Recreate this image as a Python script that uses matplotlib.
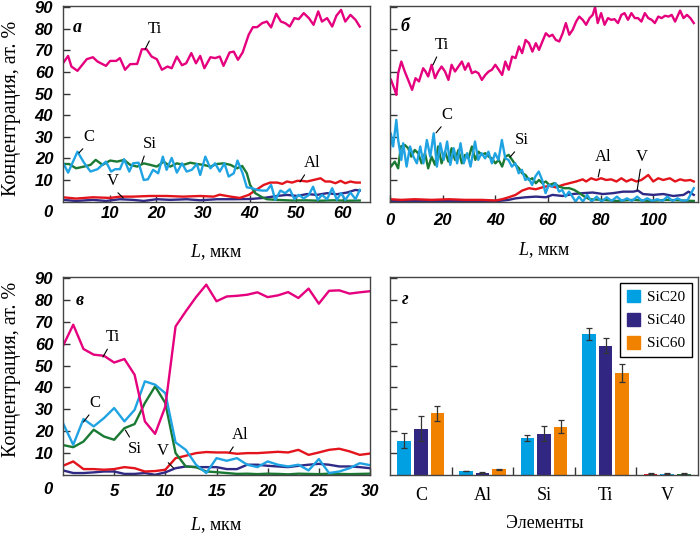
import matplotlib.pyplot as plt
from matplotlib.font_manager import FontProperties
import numpy as np

plt.rcParams['font.family'] = ['Liberation Serif', 'DejaVu Serif']
plt.rcParams['mathtext.fontset'] = 'custom'
plt.rcParams['mathtext.rm'] = 'Liberation Serif'
plt.rcParams['mathtext.it'] = 'Liberation Serif:italic'

# --- данные: панель а (x, концентрация) ---
a_ti = [(0, 64), (1.1, 67.4), (1.8, 62.5), (3.1, 60.5), (5.1, 65.9), (6.4, 66.8), (7.4, 64.8),
        (9.2, 62.8), (10.1, 65.1), (11.4, 65.1), (12.2, 66.4), (13.3, 61), (14.4, 63.6),
        (15.9, 63.7), (16.9, 70.5), (17.9, 70.5), (19.0, 67.1), (20.1, 65.9), (21.2, 61),
        (22.4, 62.5), (23.3, 61.7), (24.4, 67.1), (25.5, 63.1), (26.4, 64), (27.5, 68.7),
        (28.5, 64), (29.4, 67.4), (30.3, 61.7), (31.6, 66.8), (32.6, 66.4), (33.6, 67.1),
        (34.4, 62.8), (35.7, 69), (36.6, 69.4), (37.5, 65.6), (38.5, 69), (39.8, 77.2),
        (40.7, 80.7), (41.6, 80.7), (42.7, 82.6), (43.7, 83.3), (44.6, 80.6), (45.7, 86.9),
        (46.7, 83.3), (47.6, 82.6), (48.6, 81), (49.6, 84.9), (50.5, 84.4), (51.6, 87.2),
        (52.7, 84.9), (53.7, 81.8), (54.7, 88), (55.5, 83.3), (56.6, 84.9), (57.7, 81),
        (58.6, 86), (59.6, 88.7), (60.5, 83.3), (61.6, 86.4), (62.7, 84.1), (63.6, 81)]
a_c = [(0, 18), (1.1, 13.4), (3.1, 23.1), (4.5, 18), (5.9, 13.9), (7.4, 15), (9.2, 18.5),
       (10.3, 13.9), (11.2, 15), (12.2, 15), (13.1, 19.6), (14.2, 13.9), (15, 17.7), (16.2, 18),
       (17.3, 10), (18.2, 10.3), (19.3, 14.7), (20.4, 13.1), (21.4, 20.8), (22.2, 14.7),
       (23.3, 20.2), (24.4, 13.4), (25.5, 17.7), (26.5, 13.9), (27.6, 14.7), (28.7, 17.4),
       (29.4, 12.3), (30.5, 20.8), (31.6, 15.4), (32.6, 17.7), (33.6, 13.9), (34.6, 17.7),
       (35.5, 11.6), (36.6, 13.1), (37.4, 19), (38.5, 13.1), (39.4, 6.6), (40.5, 6.2),
       (41.6, 5.4), (42.7, 5.1), (43.7, 5.1), (44.6, 7.7), (45.5, 0.8), (46.6, 5.1), (47.6, 3.9),
       (48.6, 5.7), (49.6, 1.1), (50.5, 3.1), (51.6, 1.5), (52.7, 3.1), (53.6, 6.9), (54.6, 0.8),
       (55.5, 3.1), (56.6, 1.1), (57.7, 6.2), (58.7, 0.8), (59.6, 3.9), (60.5, 0.8), (61.6, 4.2),
       (62.7, 1.1), (63.6, 5.4)]
a_si = [(0, 17.4), (1.3, 17.4), (2.8, 15.4), (4.5, 16.2), (5.9, 17), (7.0, 19.3), (8.5, 17),
        (10.1, 19), (11.6, 18.5), (13.1, 19.3), (14.4, 17), (15.9, 16.2), (17.3, 17.7), (18.7, 17),
        (20.1, 16.2), (21.6, 18.5), (23.0, 16.2), (24.4, 17.7), (25.8, 17), (27.3, 18), (28.7, 17.4),
        (30.1, 17), (31.6, 16.2), (33.0, 17.4), (34.4, 17.7), (35.9, 17), (37.3, 15.4), (38.4, 16.5),
        (39.4, 13.1), (40.1, 7.7), (41.2, 3.9), (42.7, 2), (43.7, 1.1), (45.9, 0.8), (49, 0.5),
        (52, 0.6), (55, 0.4), (58, 0.6), (61, 0.4), (63.6, 0.5)]
a_al = [(0, 2), (2.8, 1.4), (6.4, 2), (10.1, 1.7), (12.2, 2.3), (15, 2.3), (18.7, 2.6), (22.2, 2.6),
        (25.8, 2.3), (29.4, 2.6), (32.3, 2.3), (33.6, 3.2), (35.9, 2.3), (37.9, 1.7), (39.8, 3.1),
        (41.6, 5.7), (43, 7.7), (44.4, 8.8), (45.9, 8.8), (47, 8.2), (48, 9.3), (49.1, 8.8),
        (50.2, 9.6), (51.2, 9.6), (52.3, 9.3), (53.7, 10), (55.2, 10.8), (56.2, 9.3), (57.3, 9.3),
        (58.4, 8.5), (59.5, 9.6), (60.5, 8.5), (61.6, 9.3), (62.7, 8.8), (63.6, 8.8)]
a_v = [(0, 0.8), (2.8, 0.3), (6.4, 0.8), (9.2, 0.3), (12.2, 1.1), (15, 0.8), (17.3, 0.3), (20.1, 1.1),
       (23, 0.8), (26.5, 1.1), (29.4, 0.6), (33, 1.1), (36.6, 1.1), (40.1, 1.2), (43, 1.7),
       (45.9, 2.6), (48, 3.1), (50.2, 2.6), (52.3, 3.5), (54.4, 3.1), (56.6, 3.9), (58.7, 3.4),
       (60.9, 4.2), (62.7, 5.4), (63.6, 5.1)]

# --- панель б ---
b_ti = [(0, 57), (0.4, 56.3), (1.8, 51.7), (2.4, 49.4), (3.1, 59.4), (4.3, 64.8), (5.6, 60.2),
        (6.9, 56.3), (8.4, 51.7), (9.7, 57.1), (11, 55.6), (12.6, 61.7), (13.5, 60.2), (14.5, 57.9),
        (15.8, 63.3), (17.1, 57.1), (18.3, 60.2), (19.6, 62.5), (20.9, 60.2), (22.2, 56.3),
        (23.4, 63.3), (24.7, 60.2), (26, 62.5), (27.3, 64.8), (28.5, 61), (29.8, 64), (31.1, 59.4),
        (32.4, 60.2), (33.6, 59.4), (34.9, 56.3), (36.2, 58.6), (37.5, 60.2), (38.7, 61),
        (40, 63.3), (41.3, 61), (42.6, 58.6), (43.8, 64.8), (45.1, 61), (46.4, 67.1), (47.7, 66.4),
        (49, 71.8), (50.2, 68.7), (51.5, 74.8), (52.8, 73.3), (54.1, 69.4), (55.4, 73.3),
        (56.6, 70.2), (57.9, 74.1), (59.2, 77.9), (60.5, 76.4), (61.7, 77.2), (63, 74.8),
        (64.3, 74.1), (65.6, 77.9), (66.8, 82.6), (68.1, 77.2), (69.4, 79.5), (70.7, 83.3),
        (71.9, 85.6), (73.2, 84.1), (74.5, 81.8), (75.8, 84.9), (77, 86.4), (77.9, 90),
        (78.9, 82.6), (80.2, 87.2), (81.5, 81.8), (82.8, 84.9), (84, 84.1), (85.3, 84.4),
        (86.6, 82.6), (87.9, 86.4), (89.1, 87.2), (90.4, 84.1), (91.7, 87.2), (93, 84.9),
        (94.2, 84.9), (95.5, 83.3), (96.8, 87.2), (98.1, 84.9), (99.4, 84.1), (100.6, 82.6),
        (101.9, 85.6), (103.2, 84.9), (104.5, 86), (105.8, 85.6), (107, 86.4), (108.3, 83.3),
        (110.2, 88.4), (111.5, 84.9), (112.8, 86.4), (114.1, 84.9), (115.4, 82.6)]
b_c = [(0, 24), (0.3, 31.6), (1.2, 25.5), (2.4, 37.8), (3.1, 28.5), (4.3, 19.3), (5, 27), (6.3, 16.2),
       (7.6, 25.5), (8.9, 20.8), (10.2, 17.7), (11.5, 25.5), (12.7, 17.7), (14, 28.5), (15.3, 20.8),
       (16.6, 31.6), (17.8, 16.2), (19.1, 27), (20.4, 19.3), (21.7, 27.8), (22.9, 17), (24.2, 24.7),
       (25.5, 17.7), (26.8, 27), (28, 17.7), (29.3, 22.4), (30.6, 16.2), (32.3, 27.8), (33.5, 19.3),
       (34.8, 22.4), (36.1, 20), (37.4, 23.1), (38.7, 17.7), (39.9, 22.4), (41.2, 19.3),
       (42.5, 28.5), (43.8, 20), (45, 19.3), (46.3, 16.2), (47.6, 17.7), (48.9, 13.1), (50.1, 14.7),
       (51.4, 10), (52.7, 10.8), (54, 7.7), (55.2, 11.6), (56.5, 13.9), (57.8, 10), (59.1, 3.9),
       (60.3, 7.7), (61.6, 6.9), (62.9, 8.5), (64.2, 4.6), (65.4, 5.4), (66.7, 2.3), (68, 4.6),
       (69.3, 2.3), (70.5, 0), (71.8, 2.3), (73.3, 0), (74.9, 3.1), (76.6, 0), (78.5, 2.3),
       (80.4, 0), (82.3, 2), (84.2, 0.3), (86.2, 2.3), (88.1, 0.3), (90, 1.5), (91.9, 0.3),
       (93.9, 2.3), (95.8, 0.3), (97.7, 1.5), (99.6, 0.3), (101.5, 1.1), (103.5, 0.3), (105.4, 2.3),
       (107.3, 0.3), (109.2, 1.5), (111.2, 0.3), (113.1, 0.8), (115.4, 6.2)]
b_si = [(0, 17.7), (0.4, 16.2), (1.8, 18.5), (3.1, 15.4), (4.1, 25.5), (5.6, 26.2), (6.9, 24.7),
        (8.1, 20.8), (9.4, 23.9), (10.7, 22.4), (12, 17.7), (13.3, 22.4), (14.5, 15.4), (15.8, 20.8),
        (17.1, 17), (18.3, 25.5), (19.6, 17.7), (20.9, 23.1), (22.2, 18.5), (23.4, 24.7),
        (24.7, 19.3), (26, 23.9), (27.3, 17.7), (28.5, 21.6), (29.8, 20), (31.1, 25.5), (32.4, 19.3),
        (33.6, 23.1), (34.9, 21.6), (36.2, 22.4), (37.5, 20.8), (38.7, 20), (40, 17.7), (41.3, 19.3),
        (42.6, 16.2), (43.8, 20.8), (45.1, 21.6), (46.4, 19.3), (47.7, 17), (49, 15.4), (50.2, 13.1),
        (51.5, 12.3), (52.8, 10), (54.1, 10.8), (55.4, 8.5), (56.6, 10), (57.9, 8.5), (59.2, 9.3),
        (60.5, 7.7), (62.4, 8.5), (64.3, 6.9), (66.2, 6.2), (68.1, 6.2), (70, 5.4), (72, 3.9),
        (73.9, 2.3), (75.8, 1.1), (80.9, 0.8), (86, 0.3), (92.4, 0.8), (98.7, 0.3), (105, 0.8),
        (115.4, 0.3)]
b_al = [(0, 1.1), (4.3, 0.8), (9.4, 1.1), (15.8, 0.8), (22.2, 1.1), (28.5, 0.8), (34.9, 0.8),
        (40, 0.5), (42.6, 1.1), (45.1, 2), (47.7, 3.1), (50.2, 5.1), (52.8, 6.2), (55.4, 5.7),
        (57.9, 6.6), (60.5, 7.3), (63, 6.6), (65.6, 7.7), (68.1, 8.5), (70.7, 9.3), (73.2, 10.3),
        (74.5, 9.3), (76.4, 10.8), (78.3, 10), (80.2, 10.8), (82.1, 10), (84, 10.3), (86, 9.3),
        (87.9, 10.8), (89.8, 9.3), (91.7, 10.3), (93.6, 9.3), (95.5, 10), (98.1, 12.3), (100, 9.3),
        (101.9, 10.8), (103.8, 10), (106.3, 10.8), (108.3, 9.3), (110.2, 10.3), (112.1, 9.7),
        (114.1, 10), (115.4, 9.3)]
b_v = [(0, 0.3), (22.2, 0.3), (41.3, 0.3), (45.1, 0.8), (47.7, 1.5), (51.5, 2), (55.4, 2.3),
       (59.2, 2), (61.7, 3.1), (65.6, 2.6), (69.4, 3.5), (73.2, 3.9), (77, 4.2), (80.9, 3.5),
       (84.7, 3.9), (88.5, 4.6), (92.4, 4.6), (94.2, 5.1), (96.1, 3.5), (100, 3.1), (103.8, 3.5),
       (107.6, 2.6), (111.5, 3.1), (113.4, 4.6), (115.4, 3.1)]

# --- панель в (шаг 1 мкм) ---
c_x = list(range(31))
c_ti = [59, 68.7, 57.6, 55, 54.5, 51.4, 53, 45.8, 24.5, 18.8, 31.3, 67.9, 74.8, 81.3, 87, 79.4,
        81.6, 81.9, 82.4, 83.5, 81.3, 82.1, 83.6, 80.9, 85.2, 78.3, 84.2, 84.4, 82.9, 83.5, 84]
c_c = [23.7, 13.8, 25.6, 22.2, 26, 30.6, 24.5, 29.8, 42.8, 41.3, 37.4, 14.9, 11.5, 4.7, 0.9, 7.7,
       6.5, 7.7, 4.7, 3.6, 6.2, 4.7, 3.9, 4.7, 2.1, 7.3, 0.9, 1.6, 3.1, 5.4, 4.5]
c_si = [13.7, 12.7, 15.3, 20.7, 17.6, 16.1, 21.4, 23.3, 32.9, 40.5, 32.9, 10, 3.9, 3.6, 1.6, 1.3,
        0.9, 0.5, 0.6, 0.4, 0.6, 0.5, 0.3, 0.6, 0.5, 0.4, 0.6, 0.5, 0.4, 0.5, 0.6]
c_al = [4.2, 6.2, 2.7, 2.7, 2.4, 2.7, 3.6, 3.1, 1.6, 1.8, 2.4, 7.7, 8.8, 10, 10.5, 10.3, 10.3, 9.7,
        10, 10, 10.3, 10.6, 10.3, 11.5, 9.2, 10.3, 11.5, 12, 10.8, 9.2, 9.8]
c_v = [2.1, 0.9, 0.9, 1.2, 1.6, 1.6, 0.5, 0.5, 0.9, 0.1, 1.2, 3.1, 3.9, 3.6, 3.6, 3.6, 2.7, 2.7,
       4.7, 4.7, 4.2, 3.9, 3.6, 4.2, 4.7, 5.1, 4.7, 3.9, 3.9, 3.6, 3.1]

# --- панель г ---
elements = ['C', 'Al', 'Si', 'Ti', 'V']
samples = ['SiC20', 'SiC40', 'SiC60']
sic20 = [15.7, 2.0, 17.1, 64.5, 0.6]
sic40 = [21.2, 1.1, 18.8, 59.0, 0.5]
sic60 = [28.2, 2.6, 22.1, 46.5, 0.6]
err20 = [3.3, 0.0, 1.4, 2.9, 0.3]
err40 = [5.6, 0.2, 3.4, 3.4, 0.2]
err60 = [3.4, 0.2, 3.0, 4.2, 0.2]

TI, C, SI, AL, V = '#e5007e', '#1fa3e2', '#1a7a33', '#e3141c', '#2f2a86'
BAR = ['#00a0e3', '#312783', '#f08200']

tick_fp = FontProperties(family='Liberation Sans', weight='bold', style='italic', size=12)

fig = plt.figure(figsize=(7.0, 5.34), dpi=100)
W, H = 700.0, 534.0


def make_ax(left, right, top, bottom):
    return fig.add_axes([left / W, 1 - bottom / H, (right - left) / W, (bottom - top) / H])


ax_a = make_ax(63, 370, 6, 201.6)
ax_b = make_ax(390, 698, 6, 201.6)
ax_c = make_ax(63, 370, 277, 475)
ax_d = make_ax(390, 698, 277, 475)


def style(ax, xlim, xticks, ylabels, xpad):
    ax.set_xlim(*xlim)
    ax.set_ylim(0, 90.5)
    ax.set_yticks(range(10, 100, 10))
    ax.tick_params(direction='in', length=5, width=1, color='#333333')
    ax.tick_params(axis='x', pad=xpad)
    ax.tick_params(axis='y', pad=7)
    for s in ax.spines.values():
        s.set_linewidth(1.0)
        s.set_color('#444444')
    if xticks is not None:
        ax.set_xticks(xticks)
        ax.set_xticklabels([str(t) for t in xticks], fontproperties=tick_fp)
    if ylabels:
        ax.set_yticklabels([str(t) for t in range(10, 100, 10)], fontproperties=tick_fp)
        ax.annotate('0', xy=(0, 0), xycoords='axes fraction', xytext=(-15, -xpad * 1.39 - 6),
                    textcoords='offset pixels', ha='center', va='center', fontproperties=tick_fp)
    else:
        ax.set_yticklabels([])


def draw_lines(ax, series):
    for pts, col in series:
        xs, ys = zip(*pts)
        ax.plot(xs, ys, color=col, lw=1.7, solid_joinstyle='round')


def label(ax, text, xy, xytext, rel=(0.25, 0.0)):
    ax.annotate(text, xy=xy, xytext=xytext, ha='center', va='center', fontsize=12,
                arrowprops=dict(arrowstyle='-', lw=0.8, color='black', shrinkA=1, shrinkB=0,
                                relpos=rel))


# а
draw_lines(ax_a, [(a_v, V), (a_al, AL), (a_si, SI), (a_c, C), (a_ti, TI)])
style(ax_a, (0, 65.8), [10, 20, 30, 40, 50, 60], True, 3.5)
label(ax_a, 'Ti', (17.6, 70.5), (19.7, 79.9))
label(ax_a, 'C', (3.4, 22.5), (5.6, 29.9))
label(ax_a, 'Si', (16.9, 17.9), (18.6, 26.7), (0.2, 0.0))
label(ax_a, 'V', (12.9, 1.7), (10.7, 9.5), (0.6, 0.0))
label(ax_a, 'Al', (50.8, 9.1), (53.4, 17.9), (0.2, 0.0))
ax_a.text(0.046, 0.888, 'а', transform=ax_a.transAxes, fontsize=13, fontweight='bold',
          fontstyle='italic', ha='center', va='center')

# б
draw_lines(ax_b, [(b_v, V), (b_al, AL), (b_si, SI), (b_c, C), (b_ti, TI)])
style(ax_b, (0, 117), [0, 20, 40, 60, 80, 100], False, 8)
label(ax_b, 'Ti', (16.3, 63.2), (19.8, 72.5))
label(ax_b, 'C', (17.5, 31.8), (21.7, 40.1))
label(ax_b, 'Si', (45.6, 20.6), (50.2, 28.5), (0.2, 0.0))
label(ax_b, 'Al', (79.1, 11.4), (81.0, 20.6), (0.35, 0.0))
label(ax_b, 'V', (93.9, 5.4), (95.8, 20.6), (0.4, 0.0))
ax_b.text(0.049, 0.893, 'б', transform=ax_b.transAxes, fontsize=13, fontweight='bold',
          fontstyle='italic', ha='center', va='center')

# в
draw_lines(ax_c, [(list(zip(c_x, c_v)), V), (list(zip(c_x, c_al)), AL),
                  (list(zip(c_x, c_si)), SI), (list(zip(c_x, c_c)), C),
                  (list(zip(c_x, c_ti)), TI)])
style(ax_c, (0, 30), [5, 10, 15, 20, 25, 30], True, 6.3)
label(ax_c, 'Ti', (3.9, 53.9), (4.9, 63.0))
label(ax_c, 'C', (2.0, 24.2), (3.1, 32.9))
label(ax_c, 'Si', (6.1, 20.5), (7.0, 11.9), (0.3, 1.0))
label(ax_c, 'V', (10.8, 3.2), (9.8, 11.0), (0.6, 0.0))
label(ax_c, 'Al', (16.3, 10.5), (17.3, 18.3), (0.25, 0.0))
ax_c.text(0.055, 0.882, 'в', transform=ax_c.transAxes, fontsize=13, fontweight='bold',
          fontstyle='italic', ha='center', va='center')

# г
x = np.arange(len(elements))
w, off = 0.22, 0.27
for i, (vals, errs) in enumerate([(sic20, err20), (sic40, err40), (sic60, err60)]):
    cols = [BAR[i]] * len(elements)
    cols[-1] = [AL, C, SI][i]
    ax_d.bar(x + (i - 1) * off, vals, width=w, color=cols, label=samples[i], zorder=2)
    ax_d.errorbar(x + (i - 1) * off, vals, yerr=errs, fmt='none', ecolor='#333333',
                  elinewidth=0.9, capsize=2.2, capthick=0.9, zorder=3)
style(ax_d, (-0.5, 4.5), None, False, 9)
ax_d.set_xticks(x)
ax_d.set_xticklabels(elements, fontsize=13)
ax_d.tick_params(axis='x', length=0)
ax_d.set_xticks([0.5, 1.5, 2.5, 3.5], minor=True)
ax_d.tick_params(axis='x', which='minor', direction='in', length=6, width=1, color='#333333')
handles = [plt.Rectangle((0, 0), 1, 1, color=c) for c in BAR]
leg = ax_d.legend(handles, samples, loc='upper right', bbox_to_anchor=(0.98, 0.97),
                  borderaxespad=0, fancybox=False, framealpha=1, edgecolor='black',
                  fontsize=11, handlelength=0.85, handleheight=0.9, handletextpad=0.45,
                  borderpad=0.45, labelspacing=0.55)
leg.get_frame().set_linewidth(1.0)
ax_d.text(0.049, 0.887, 'г', transform=ax_d.transAxes, fontsize=13, fontweight='bold',
          fontstyle='italic', ha='center', va='center')

# подписи осей
for yc in (108, 369):
    fig.text(11.5 / W, 1 - yc / H, 'Концентрация, ат. %', rotation=90, ha='center', va='center',
             fontsize=14.5)
fig.text(216.5 / W, 1 - 252 / H, r'$L$, мкм', ha='center', va='center', fontsize=13)
fig.text(544 / W, 1 - 250 / H, r'$L$, мкм', ha='center', va='center', fontsize=13)
fig.text(216.5 / W, 1 - 525 / H, r'$L$, мкм', ha='center', va='center', fontsize=13)
fig.text(545 / W, 1 - 523 / H, 'Элементы', ha='center', va='center', fontsize=13)

fig.savefig('out.png', dpi=100)
